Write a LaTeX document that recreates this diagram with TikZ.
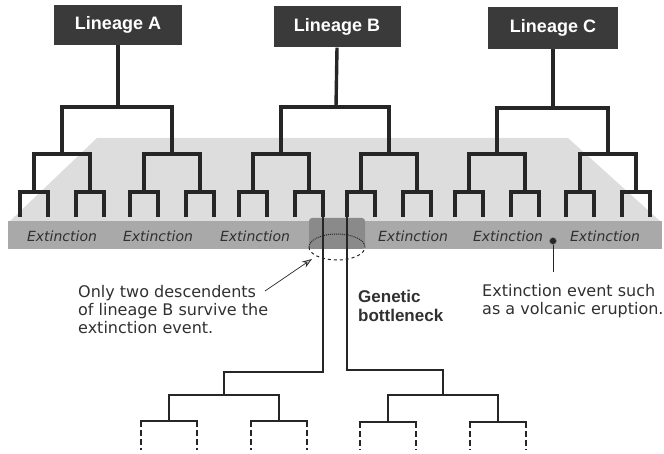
\documentclass[tikz,border=0pt]{standalone}
\usepackage{fontspec}
\setmainfont{DejaVu Sans}
\newfontfamily\labfont{Liberation Sans}
\usetikzlibrary{arrows.meta}
\definecolor{treecol}{HTML}{262626}
\definecolor{boxcol}{HTML}{3A3A3A}
\definecolor{bandcol}{HTML}{A9A9A9}
\definecolor{planecol}{HTML}{DDDDDD}
\definecolor{cylcol}{HTML}{8A8A8A}
\definecolor{txtcol}{HTML}{303030}
\begin{document}
\begin{tikzpicture}[x=1pt,y=-1pt,
  lineage/.style={fill=boxcol, text=white, font=\labfont\bfseries\fontsize{18}{20}\selectfont,
    minimum width=128pt, minimum height=40pt, inner sep=0pt},
  uptree/.style={draw=treecol, line width=3.4pt, line join=miter},
  lowtree/.style={draw=treecol, line width=2.4pt, line join=miter},
  lowbar/.style={lowtree, line cap=rect},
  leafdash/.style={lowtree, dash pattern=on 6pt off 3pt},
  extlab/.style={font=\itshape\fontsize{14}{16}\selectfont, text=txtcol, inner sep=0pt},
  note/.style={font=\fontsize{16}{18}\selectfont, text=txtcol, align=left, inner sep=0pt, anchor=north west},
  boldnote/.style={font=\labfont\bfseries\fontsize{17}{19}\selectfont, text=txtcol, align=left, inner sep=0pt, anchor=north west},
]
\useasboundingbox (0,0) rectangle (664,454);

% slab: top plane and front band
\fill[planecol] (10,221) -- (97,138) -- (568,138) -- (660,221) -- cycle;
\fill[bandcol] (8,221) rectangle (662,249);

% bottleneck cylinder
\fill[cylcol, rounded corners=3pt] (309,218) rectangle (365,249);
\draw[densely dotted, line width=1pt, treecol] (309,247) arc[start angle=180, end angle=360, x radius=28, y radius=13];
\draw[dashed, line width=1pt, treecol] (309,247) arc[start angle=180, end angle=0, x radius=28, y radius=13];

% extinction labels
\foreach \x in {62,158,255,413,508,605}
  \node[extlab] at (\x,236) {Extinction};

% lineage boxes
\node[lineage] (LA) at (118,25) {Lineage A};
\node[lineage, minimum width=127pt, minimum height=41pt] (LB) at (337,27) {Lineage B};
\node[lineage, minimum width=130pt, minimum height=42pt] (LC) at (553,28) {Lineage C};

\coordinate (rA) at (118,107);
\coordinate (rB) at (336,107);
\coordinate (rC) at (553,108);

% subtrees
\foreach \c [count=\i] in {62,172,281,389,497,608}{
  \coordinate (s\i) at (\c,154);
  \coordinate (u\i) at (\c-28,192);
  \coordinate (v\i) at (\c+28,192);
  \coordinate (p\i) at (\c-42,217);
  \coordinate (q\i) at (\c-14,217);
  \coordinate (r\i) at (\c+14,217);
  \coordinate (w\i) at (\c+42,217);
  \draw[uptree] (u\i) |- (s\i) -| (v\i);
  \draw[uptree] (p\i) |- (u\i) -| (q\i);
  \draw[uptree] (r\i) |- (v\i) -| (w\i);
}

\draw[uptree] (LA.south) -- (rA);
\draw[uptree] (LB.south) -- (rB);
\draw[uptree] (LC.south) -- (rC);
\draw[uptree] (s1) |- (rA) -| (s2);
\draw[uptree] (s3) |- (rB) -| (s4);
\draw[uptree] (s5) |- (rC) -| (s6);

% survivors and descendant trees
\coordinate (bl) at (323,372);
\coordinate (br) at (347,370);
\coordinate (k1) at (224,395);
\coordinate (k2) at (443,395);
\coordinate (m1) at (169,421);
\coordinate (m2) at (279,421);
\coordinate (m3) at (388,422);
\coordinate (m4) at (498,422);
\draw[lowtree, line width=2.8pt] (w3) -- (bl) -| (k1);
\draw[lowtree, line width=2.8pt] (p4) -- (br) -| (k2);
\draw[lowtree] (m1) |- (k1) -| (m2);
\draw[lowtree] (m3) |- (k2) -| (m4);
\foreach \m [count=\j] in {m1,m2,m3,m4}{
  \coordinate (ea\j) at ([xshift=-28pt]\m);
  \coordinate (eb\j) at ([xshift=28pt]\m);
  \coordinate (fa\j) at ([xshift=-28pt]\m |- 0,450);
  \coordinate (fb\j) at ([xshift=28pt]\m |- 0,450);
  \draw[lowbar] (ea\j) -- (eb\j);
  \draw[leafdash] (ea\j) -- (fa\j);
  \draw[leafdash] (eb\j) -- (fb\j);
}

% annotations
\node[note] (desc) at (78,285.6) {Only two descendents\\of lineage B survive the\\extinction event.};
\coordinate (atail) at (265,291);
\coordinate (atip) at (312,259);
\draw[line width=0.7pt, treecol, -{Stealth[length=10pt,width=7pt,fill=gray!55]}] (atail) -- (atip);

\node[boldnote] (gen) at (358,290) {Genetic\\bottleneck};

\node[circle, fill=treecol, draw=gray, line width=0.6pt, inner sep=0pt, minimum size=7pt] (dot) at (553,241) {};
\coordinate (dotend) at (553,272);
\draw[line width=0.6pt, treecol] (dot) -- (dotend);
\node[note] (event) at (482,283.7) {Extinction event such\\as a volcanic eruption.};
\end{tikzpicture}
\end{document}
